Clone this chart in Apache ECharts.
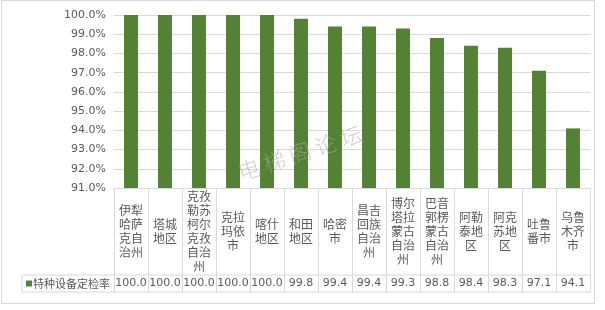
<!DOCTYPE html>
<html>
<head>
<meta charset="utf-8">
<script src="https://cdn.jsdelivr.net/npm/echarts@6/dist/echarts.min.js"></script>
<style>
  html, body { margin: 0; padding: 0; background: #fff; }
  #chart { width: 605px; height: 310px; }
</style>
</head>
<body>
<div id="chart"></div>
<script>
const regions = ['伊犁哈萨克自治州', '塔城地区', '克孜勒苏柯尔克孜自治州', '克拉玛依市', '喀什地区', '和田地区', '哈密市',
  '昌吉回族自治州', '博尔塔拉蒙古自治州', '巴音郭楞蒙古自治州', '阿勒泰地区', '阿克苏地区', '吐鲁番市', '乌鲁木齐市'];
const rates = [100.0, 100.0, 100.0, 100.0, 100.0, 99.8, 99.4, 99.4, 99.3, 98.8, 98.4, 98.3, 97.1, 94.1];
const seriesName = '特种设备定检率';
const yMin = 91, yMax = 100, yStep = 1;

// grid box (px) and table rows below it
const gLeft = 114, gRight = 15, gTop = 15, gBottom = 122;
const axisY = 310 - gBottom;
const headH = 87, rowH = 17;
const lineColor = '#d9d9d9';
const textColor = '#595959';

function wrap2(s) {
  const out = [];
  for (let i = 0; i < s.length; i += 2) out.push(s.slice(i, i + 2));
  return out.join('\n');
}

const chart = echarts.init(document.getElementById('chart'));
const option = {
  animation: false,
  grid: { left: gLeft, right: gRight, top: gTop, bottom: gBottom },
  legend: {
    data: [seriesName],
    left: 26, top: axisY + headH + 3,
    icon: 'rect', itemWidth: 6, itemHeight: 6, itemGap: 0,
    padding: 0,
    textStyle: { fontFamily: 'Noto Sans CJK SC', fontSize: 11, color: textColor, padding: [0, 0, 0, -4] }
  },
  xAxis: [{
    type: 'category',
    data: regions,
    axisLine: { lineStyle: { color: lineColor } },
    axisTick: { show: true, interval: 0, length: headH + rowH, lineStyle: { color: lineColor } },
    axisLabel: {
      interval: 0, margin: headH / 2, verticalAlign: 'middle',
      formatter: wrap2,
      fontFamily: 'Noto Sans CJK SC', fontSize: 12, lineHeight: 14, color: textColor
    }
  }, {
    type: 'category',
    position: 'bottom',
    data: rates.map(v => v.toFixed(1)),
    axisLine: { show: false },
    axisTick: { show: false },
    axisLabel: {
      interval: 0, margin: headH + rowH / 2, verticalAlign: 'middle',
      fontFamily: 'DejaVu Sans', fontSize: 11, color: textColor
    }
  }],
  yAxis: {
    type: 'value',
    min: yMin, max: yMax, interval: yStep,
    axisLine: { show: false },
    axisTick: { show: false },
    splitLine: { lineStyle: { color: lineColor } },
    axisLabel: {
      margin: 8,
      formatter: v => v.toFixed(1) + '%',
      fontFamily: 'DejaVu Sans', fontSize: 11, color: textColor
    }
  },
  series: [{
    name: seriesName,
    type: 'bar',
    data: rates,
    barWidth: '41%',
    itemStyle: { color: '#548235' }
  }],
  graphic: [
    { type: 'rect', shape: { x: 1.5, y: 0.5, width: 593, height: 303 }, style: { fill: 'none', stroke: lineColor } },
    { type: 'line', shape: { x1: 22, y1: axisY + headH, x2: 605 - gRight, y2: axisY + headH }, style: { stroke: lineColor } },
    { type: 'line', shape: { x1: 22, y1: axisY + headH + rowH, x2: 605 - gRight, y2: axisY + headH + rowH }, style: { stroke: lineColor } },
    { type: 'line', shape: { x1: 22, y1: axisY + headH, x2: 22, y2: axisY + headH + rowH }, style: { stroke: lineColor } },
    {
      type: 'text', x: 300, y: 153, rotation: 18 * Math.PI / 180, z: 100,
      style: {
        text: '电 梯 阁 论 坛', fontFamily: 'Noto Sans CJK SC', fontSize: 22, fontWeight: 300,
        fill: 'rgba(170,170,170,0.55)', align: 'center', verticalAlign: 'middle'
      }
    }
  ]
};
option && chart.setOption(option);
</script>
</body>
</html>
